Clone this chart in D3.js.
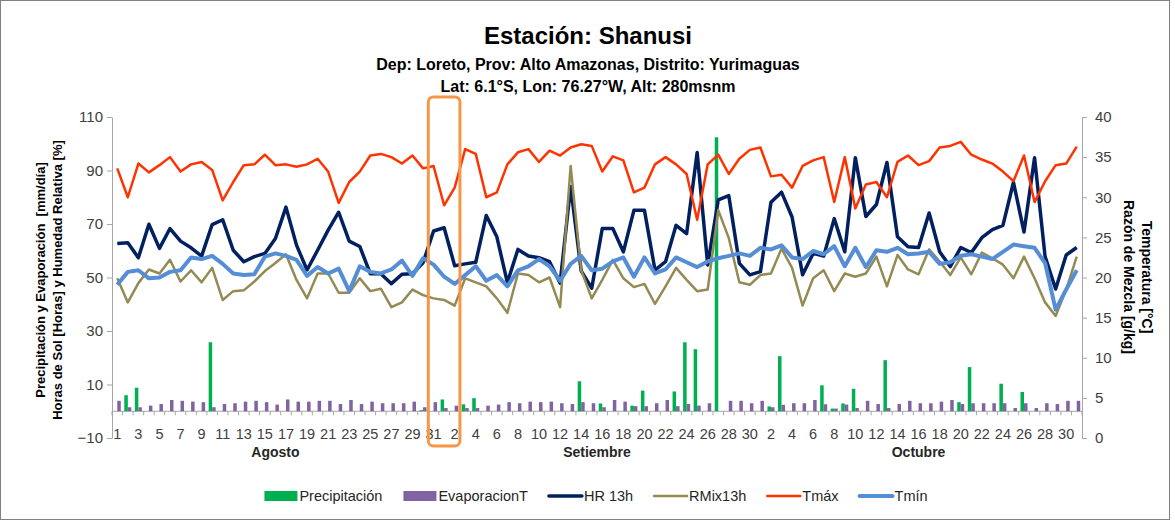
<!DOCTYPE html>
<html>
<head>
<meta charset="utf-8">
<script src="https://cdn.jsdelivr.net/npm/d3@7"></script>
<style>
  body { margin: 0; background: #fff; }
  svg { display: block; }
  text { font-family: "Liberation Sans", Arial, sans-serif; }
</style>
</head>
<body>
<script>
// Estación Shanusi - daily series, Aug to Oct

const monthNames = ["Agosto", "Setiembre", "Octubre"];
const monthDays = [31, 30, 31];

// mm/day, left axis
const precip = [
  0, 6.0, 8.8, 0, 0, 0, 0, 0, 0, 25.8, 0, 0, 0, 0, 0, 0, 0, 0, 0, 0, 0, 0, 0, 0, 0, 0, 0, 0, 0, 0.4, 0,
  4.4, 0, 2.6, 4.9, 0, 0, 0, 0, 0, 0, 0, 0, 0, 11.2, 0, 2.9, 0, 0, 2.1, 7.7, 0, 0, 7.4, 25.8, 23.2, 0, 102.4, 0, 0, 0,
  0, 1.8, 20.6, 0, 0, 0, 9.7, 1.0, 2.9, 8.4, 0, 0, 19.1, 0, 0, 0, 0, 0, 0, 3.4, 16.5, 0, 0, 10.3, 0, 7.2, 0, 0, 0, 0, 0
];
const evap = [
  3.9, 1.5, 1.5, 2.1, 2.7, 4.2, 3.9, 3.6, 3.4, 1.5, 2.7, 3.0, 3.6, 3.9, 3.4, 2.5, 4.4, 3.6, 3.6, 3.9, 3.9, 2.7, 4.2, 2.7, 3.6, 3.0, 3.0, 3.0, 3.6, 1.5, 3.4,
  1.2, 2.1, 1.2, 1.2, 2.1, 2.5, 3.4, 3.0, 3.6, 3.4, 3.6, 3.0, 2.7, 3.4, 3.0, 1.5, 4.2, 3.6, 1.9, 1.9, 3.0, 4.2, 1.9, 2.7, 2.1, 3.0, 0, 3.9, 3.9, 3.0,
  3.9, 1.5, 2.4, 3.0, 3.0, 4.2, 2.6, 1.0, 2.5, 1.2, 3.9, 2.7, 1.2, 2.7, 3.9, 3.0, 3.0, 3.6, 4.2, 2.7, 3.0, 3.0, 3.0, 3.0, 1.2, 3.0, 1.2, 3.0, 2.7, 3.9, 3.9
];
// %, left axis
const hr13 = [
  62.7, 63.0, 57.4, 69.9, 60.9, 68.3, 63.6, 61.1, 58.0, 69.8, 71.6, 60.2, 55.9, 57.8, 59.0, 64.6, 76.3, 62.1, 52.8, 60.2, 67.7, 74.4, 63.6, 61.6, 51.4, 51.4, 47.7, 51.2, 51.4, 55.5, 67.4,
  68.6, 54.4, 55.1, 55.7, 73.2, 65.2, 48.1, 60.5, 58.0, 57.4, 55.9, 47.9, 84.0, 52.5, 46.0, 68.3, 68.3, 59.6, 75.1, 75.1, 52.8, 55.9, 69.5, 66.4, 96.7, 54.7, 79.0, 80.6, 55.3, 51.0,
  52.2, 78.1, 81.9, 72.6, 51.0, 59.0, 58.0, 72.0, 59.6, 94.8, 72.8, 77.3, 93.0, 65.2, 61.5, 61.2, 74.1, 59.6, 54.1, 61.2, 59.3, 64.9, 67.9, 69.5, 85.6, 67.0, 94.8, 57.8, 45.7, 58.4, 61.2
];
// g/kg, right axis
const rmix13 = [
  19.9, 16.9, 19.3, 21.0, 20.5, 22.2, 19.5, 20.9, 19.4, 21.2, 17.2, 18.3, 18.4, 19.5, 20.8, 21.8, 22.9, 19.7, 17.4, 20.5, 20.5, 18.1, 18.1, 19.9, 18.3, 18.6, 16.3, 16.9, 18.5, 17.8, 17.4,
  17.2, 16.5, 19.9, 19.4, 18.9, 17.4, 15.6, 20.5, 20.3, 19.4, 20.0, 16.3, 33.9, 20.9, 17.4, 19.7, 22.2, 19.9, 18.8, 19.2, 16.7, 18.9, 21.2, 19.7, 18.3, 18.5, 28.4, 24.9, 19.4, 19.1,
  20.3, 20.5, 23.6, 21.2, 16.5, 19.9, 20.9, 18.3, 20.5, 20.1, 20.5, 22.6, 18.9, 22.8, 21.0, 20.4, 23.5, 22.0, 20.3, 22.5, 20.4, 23.1, 22.4, 21.6, 19.9, 22.6, 19.9, 16.9, 15.2, 18.5, 22.6
];
// °C, right axis
const tmax = [
  33.6, 30.0, 34.2, 33.1, 34.0, 35.0, 33.2, 34.1, 34.4, 33.4, 29.6, 31.9, 34.0, 34.1, 35.3, 34.0, 34.1, 33.8, 34.1, 34.8, 33.2, 29.3, 31.9, 33.2, 35.2, 35.4, 35.0, 34.2, 35.2, 33.6, 33.9,
  29.0, 31.2, 36.0, 35.4, 30.0, 30.6, 34.1, 35.6, 36.0, 34.4, 35.8, 35.2, 36.2, 36.6, 36.4, 33.2, 35.1, 34.6, 30.6, 31.2, 34.1, 35.0, 34.1, 32.9, 27.2, 34.1, 35.3, 32.9, 34.8, 35.9,
  36.2, 32.6, 32.8, 31.2, 33.9, 34.6, 35.0, 29.4, 35.0, 28.6, 31.6, 31.9, 30.0, 34.4, 35.2, 34.0, 34.5, 36.2, 36.4, 36.9, 35.3, 34.7, 34.2, 33.2, 32.0, 35.2, 29.4, 32.0, 34.0, 34.2, 36.3
];
const tmin = [
  19.1, 20.7, 20.9, 19.9, 20.0, 20.7, 20.9, 22.5, 22.3, 22.7, 21.7, 20.5, 20.3, 20.4, 22.6, 23.0, 22.7, 22.2, 20.2, 21.3, 20.5, 21.1, 18.3, 21.4, 20.7, 20.5, 21.0, 22.1, 20.2, 22.4, 21.6,
  20.1, 19.2, 20.3, 21.4, 19.6, 20.3, 18.9, 20.9, 21.4, 22.3, 21.4, 19.6, 21.7, 22.7, 20.9, 21.1, 22.0, 22.5, 20.1, 22.5, 20.5, 21.0, 22.5, 21.9, 21.3, 22.0, 22.4, 22.7, 23.0, 22.7,
  23.7, 23.5, 24.0, 22.5, 22.3, 23.3, 22.9, 23.9, 21.4, 23.7, 21.3, 23.4, 23.2, 23.7, 22.9, 23.0, 23.2, 21.7, 21.9, 22.7, 22.9, 22.6, 22.3, 23.2, 24.1, 23.9, 23.7, 21.8, 16.0, 18.5, 20.9
];

const leftTicks = [-10, 10, 30, 50, 70, 90, 110];
const rightTicks = [0, 5, 10, 15, 20, 25, 30, 35, 40];
const highlight = [30, 32]; // Aug 31 - Sep 2 marked box

// build the day list (month index + day number)
const days = [];
monthDays.forEach((n, m) => d3.range(1, n + 1).forEach(d => days.push({ m: m, d: d })));

const width = 1175, height = 522;
const plot = { left: 112, right: 1082, top: 117, bottom: 438 };

const svg = d3.select("body").append("svg")
    .attr("width", width)
    .attr("height", height);

svg.append("rect")
    .attr("x", 0.5).attr("y", 0.5)
    .attr("width", 1169).attr("height", 519)
    .attr("fill", "#fff")
    .attr("stroke", "#808080");

// scales
const x = d3.scaleBand()
    .domain(d3.range(days.length))
    .range([plot.left, plot.right]);
const cx = i => x(i) + x.bandwidth() / 2;

const yL = d3.scaleLinear().domain([-10, 110]).range([plot.bottom, plot.top]);
const yR = d3.scaleLinear().domain([0, 40]).range([plot.bottom, plot.top]);

const xBar = d3.scaleBand()
    .domain(["precip", "evap"])
    .range([0, x.bandwidth()])
    .paddingOuter(0.5);

// titles
svg.append("text")
    .attr("x", 588).attr("y", 44)
    .attr("text-anchor", "middle")
    .style("font-size", "24px").style("font-weight", "bold")
    .text("Estación: Shanusi");
svg.append("text")
    .attr("x", 588).attr("y", 70)
    .attr("text-anchor", "middle")
    .style("font-size", "16px").style("font-weight", "bold")
    .text("Dep: Loreto, Prov: Alto Amazonas, Distrito: Yurimaguas");
svg.append("text")
    .attr("x", 588).attr("y", 92)
    .attr("text-anchor", "middle")
    .style("font-size", "16px").style("font-weight", "bold")
    .text("Lat: 6.1°S, Lon: 76.27°W, Alt: 280msnm");

// left axis
const axL = svg.append("g")
    .attr("transform", `translate(${plot.left},0)`)
    .call(d3.axisLeft(yL).tickValues(leftTicks).tickSize(5).tickSizeOuter(0).tickPadding(4));
// right axis
const axR = svg.append("g")
    .attr("transform", `translate(${plot.right},0)`)
    .call(d3.axisRight(yR).tickValues(rightTicks).tickSize(5).tickSizeOuter(0).tickPadding(8));

[axL, axR].forEach(ax => {
    ax.select(".domain").attr("stroke", "#a6a6a6");
    ax.selectAll(".tick line").attr("stroke", "#a6a6a6");
    ax.selectAll(".tick text")
        .style("font-size", "15px")
        .attr("fill", "#404040")
        .style("font-family", "'Liberation Sans', Arial, sans-serif");
});

// axis titles
const leftTitles = ["Precipitación y Evaporación  [mm/día]", "Horas de Sol [Horas] y Humedad Relativa [%]"];
leftTitles.forEach((t, k) => {
    svg.append("text")
        .attr("transform", `translate(${45 + k * 17},280) rotate(-90)`)
        .attr("text-anchor", "middle")
        .style("font-size", "13px").style("font-weight", "bold")
        .style("white-space", "pre")
        .text(t);
});
const rightTitles = ["Temperatura [°C]", "Razón de Mezcla [g/kg]"];
rightTitles.forEach((t, k) => {
    svg.append("text")
        .attr("transform", `translate(${1142 - k * 18},277) rotate(90)`)
        .attr("text-anchor", "middle")
        .style("font-size", "14px").style("font-weight", "bold")
        .text(t);
});

// category axis at zero
const y0 = yL(0);
svg.append("line")
    .attr("x1", plot.left).attr("x2", plot.right)
    .attr("y1", y0).attr("y2", y0)
    .attr("stroke", "#a6a6a6");
svg.append("g").selectAll("line")
    .data(d3.range(days.length + 1))
    .join("line")
    .attr("x1", i => plot.left + i * x.step())
    .attr("x2", i => plot.left + i * x.step())
    .attr("y1", y0).attr("y2", y0 + 4)
    .attr("stroke", "#a6a6a6");

svg.append("g").selectAll("text")
    .data(days.map((d, i) => ({ ...d, i })).filter(d => d.i % 2 === 0))
    .join("text")
    .attr("x", d => cx(d.i))
    .attr("y", plot.bottom + 1)
    .attr("text-anchor", "middle")
    .attr("fill", "#404040")
    .style("font-size", "14.5px")
    .text(d => d.d);

// month labels
let start = 0;
monthNames.forEach((name, m) => {
    const end = start + monthDays[m] - 1;
    svg.append("text")
        .attr("x", (cx(start) + cx(end)) / 2)
        .attr("y", 457)
        .attr("text-anchor", "middle")
        .style("font-size", "14px").style("font-weight", "bold")
        .attr("fill", "#262626")
        .text(name);
    start = end + 1;
});

// bars
const colors = {
    precip: "#00b050",
    evap: "#8064a2",
    hr: "#002060",
    rmix: "#948a54",
    tmax: "#ff3300",
    tmin: "#558ed5"
};

svg.append("g").selectAll("rect")
    .data(precip.map((v, i) => ({ v, i })).filter(d => d.v > 0))
    .join("rect")
    .attr("x", d => x(d.i) + xBar("precip"))
    .attr("width", xBar.bandwidth())
    .attr("y", d => yL(d.v))
    .attr("height", d => y0 - yL(d.v))
    .attr("fill", colors.precip);

svg.append("g").selectAll("rect")
    .data(evap.map((v, i) => ({ v, i })).filter(d => d.v > 0))
    .join("rect")
    .attr("x", d => x(d.i) + xBar("evap"))
    .attr("width", xBar.bandwidth())
    .attr("y", d => yL(d.v))
    .attr("height", d => y0 - yL(d.v))
    .attr("fill", colors.evap);

// lines
function drawLine(values, scale, color, w) {
    svg.append("path")
        .datum(values)
        .attr("fill", "none")
        .attr("stroke", color)
        .attr("stroke-width", w)
        .attr("stroke-linejoin", "round")
        .attr("d", d3.line().x((v, i) => cx(i)).y(v => scale(v)));
}
drawLine(hr13, yL, colors.hr, 3.5);
drawLine(rmix13, yR, colors.rmix, 2.5);
drawLine(tmax, yR, colors.tmax, 2.5);
drawLine(tmin, yR, colors.tmin, 4);

// highlight box
svg.append("rect")
    .attr("x", x(highlight[0]))
    .attr("y", yL(117.5))
    .attr("width", x(highlight[1]) + x.bandwidth() - x(highlight[0]))
    .attr("height", yL(-13) - yL(117.5))
    .attr("rx", 5)
    .attr("fill", "none")
    .attr("stroke", "#f79646")
    .attr("stroke-width", 3);

// legend
const legendItems = [
    { name: "Precipitación", key: "precip", type: "bar" },
    { name: "EvaporacionT", key: "evap", type: "bar" },
    { name: "HR 13h", key: "hr", type: "line", w: 3.5 },
    { name: "RMix13h", key: "rmix", type: "line", w: 2.5 },
    { name: "Tmáx", key: "tmax", type: "line", w: 2.5 },
    { name: "Tmín", key: "tmin", type: "line", w: 4 }
];
const legend = svg.append("g");
let lx = 0;
legendItems.forEach(it => {
    const g = legend.append("g").attr("transform", `translate(${lx},0)`);
    if (it.type === "bar") {
        g.append("rect").attr("x", 0).attr("y", -5).attr("width", 33).attr("height", 10)
            .attr("fill", colors[it.key]);
    } else {
        g.append("line").attr("x1", 0).attr("x2", 33).attr("y1", 0).attr("y2", 0)
            .attr("stroke", colors[it.key]).attr("stroke-width", it.w).attr("stroke-linecap", "round");
    }
    const t = g.append("text").attr("x", 35).attr("y", 5)
        .attr("fill", "#262626")
        .style("font-size", "14.5px")
        .text(it.name);
    lx += 35 + t.node().getComputedTextLength() + 21;
});
const legendW = lx - 21;
legend.attr("transform", `translate(${596 - legendW / 2},496)`);
</script>
</body>
</html>
